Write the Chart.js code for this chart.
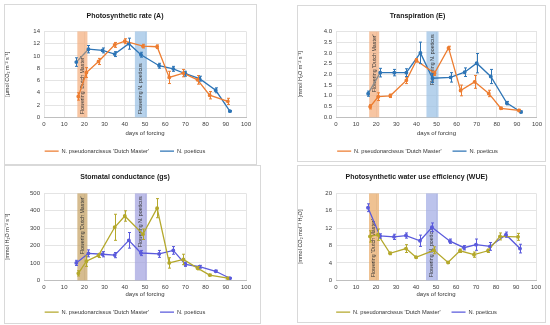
<!DOCTYPE html>
<html>
<head>
<meta charset="utf-8">
<script src="https://cdn.jsdelivr.net/npm/chart.js@4.4.1/dist/chart.umd.min.js"></script>
<style>
body { margin: 0; background: #fff; width: 550px; height: 325px; overflow: hidden; position: relative; }
.frame { position: absolute; border: 1px solid #d9d9d9; box-sizing: border-box; }
.box { position: absolute; }
</style>
</head>
<body>
<div class="frame" style="left:4px;top:4px;width:253px;height:161px"></div>
<div class="frame" style="left:297px;top:5px;width:249px;height:157px"></div>
<div class="frame" style="left:4px;top:165px;width:257px;height:159px"></div>
<div class="frame" style="left:297px;top:165px;width:249px;height:158px"></div>
<div class="box" style="left:4px;top:4px;width:252px;height:160px"><canvas id="cA"></canvas></div>
<div class="box" style="left:297px;top:5px;width:248px;height:159px"><canvas id="cE"></canvas></div>
<div class="box" style="left:4px;top:165px;width:256px;height:160px"><canvas id="cG"></canvas></div>
<div class="box" style="left:297px;top:165px;width:248px;height:160px"><canvas id="cW"></canvas></div>
<script>
const FONT = "'Liberation Sans', sans-serif";

// days of forcing
const daysDM = [17, 21, 27, 35, 40, 49, 56, 62, 69, 76, 82, 91];
const daysNP = [16, 22, 29, 35, 42, 48, 57, 64, 70, 77, 85, 92];

// flowering periods
const flowerDM = [16.5, 21.5];
const flowerNP = [45, 51];

// Photosynthetic rate (A)
const photoDM = [3.4, 7.3, 9.1, 11.8, 12.4, 11.6, 11.5, 6.5, 7.2, 6.1, 3.6, 2.6];
const photoDMErr = [0.6, 0.8, 0.5, 0.4, 0.4, 0.3, 0.3, 1.0, 0.6, 0.7, 0.6, 0.5];
const photoNP = [9.0, 11.1, 10.9, 10.3, 12.0, 10.2, 8.4, 7.9, 7.1, 6.3, 4.4, 1.0];
const photoNPErr = [0.7, 0.6, 0.4, 0.4, 0.9, 0.4, 0.4, 0.4, 0.4, 0.4, 0.4, 0.1];

// Transpiration (E)
const transDM = [0.49, 0.96, 1.0, 1.72, 2.65, 2.05, 3.23, 1.25, 1.65, 1.11, 0.42, 0.32];
const transDMErr = [0.1, 0.18, 0.08, 0.15, 0.08, 0.1, 0.08, 0.25, 0.3, 0.15, 0.05, 0.05];
const transNP = [1.1, 2.08, 2.08, 2.08, 3.0, 1.82, 1.86, 2.1, 2.52, 1.9, 0.66, 0.25];
const transNPErr = [0.12, 0.2, 0.15, 0.18, 0.5, 0.2, 0.22, 0.2, 0.45, 0.33, 0.08, 0.04];

// Stomatal conductance (gs)
const condDM = [40, 110, 143, 305, 370, 265, 415, 100, 120, 70, 30, 12];
const condDMErr = [15, 30, 12, 75, 30, 30, 55, 30, 30, 10, 5, 4];
const condNP = [100, 155, 150, 145, 230, 157, 152, 172, 92, 78, 52, 12];
const condNPErr = [15, 20, 15, 15, 45, 15, 20, 22, 12, 8, 6, 3];

// Photosynthetic water use efficiency (WUE)
const wueDM = [10.1, 10.5, 6.2, 7.3, 5.3, 6.9, 4.1, 6.8, 5.9, 6.8, 10.1, 10.0];
const wueDMErr = [1.3, 1.3, 0.3, 0.9, 0.2, 0.8, 0.2, 0.4, 0.6, 0.4, 0.8, 0.8];
const wueNP = [16.7, 10.2, 10.0, 10.3, 9.1, 12.2, 9.0, 7.5, 8.2, 7.8, 10.5, 7.3];
const wueNPErr = [0.9, 0.5, 0.6, 0.6, 1.3, 1.0, 0.5, 0.5, 1.3, 0.9, 0.6, 1.0];

const nameDM = "N. pseudonarcissus 'Dutch Master'";
const nameNP = 'N. poeticus';

function pts(xs, ys) {
  return xs.map((x, i) => ({ x: x, y: ys[i] }));
}

// shaded flowering bands with rotated labels
const bandPlugin = {
  id: 'bands',
  beforeDatasetsDraw(chart, args, opts) {
    const ctx = chart.ctx, x = chart.scales.x, a = chart.chartArea;
    (opts.list || []).forEach(b => {
      const x0 = x.getPixelForValue(b.range[0]);
      const x1 = x.getPixelForValue(b.range[1]);
      ctx.save();
      ctx.fillStyle = b.color;
      ctx.fillRect(x0, a.top, x1 - x0, a.bottom - a.top);
      ctx.translate((x0 + x1) / 2, b.pos === 'top' ? a.top + 3 : a.bottom - 3);
      ctx.rotate(-Math.PI / 2);
      ctx.fillStyle = '#333';
      ctx.font = '5.3px ' + FONT;
      ctx.textBaseline = 'middle';
      ctx.textAlign = b.pos === 'top' ? 'right' : 'left';
      ctx.fillText(b.text, 0, 0);
      ctx.restore();
    });
  }
};

// vertical error bars from each dataset's err array
const errPlugin = {
  id: 'errbars',
  afterDatasetsDraw(chart) {
    const ctx = chart.ctx, x = chart.scales.x, y = chart.scales.y;
    chart.data.datasets.forEach(ds => {
      if (!ds.err) return;
      ctx.save();
      ctx.strokeStyle = ds.borderColor;
      ctx.lineWidth = 1;
      ds.data.forEach((p, i) => {
        const px = Math.round(x.getPixelForValue(p.x)) + 0.5;
        const yt = y.getPixelForValue(p.y + ds.err[i]);
        const yb = y.getPixelForValue(p.y - ds.err[i]);
        ctx.beginPath();
        ctx.moveTo(px, yt); ctx.lineTo(px, yb);
        ctx.moveTo(px - 1.5, yt); ctx.lineTo(px + 1.5, yt);
        ctx.moveTo(px - 1.5, yb); ctx.lineTo(px + 1.5, yb);
        ctx.stroke();
      });
      ctx.restore();
    });
  }
};

function makePanel(id, p) {
  const line = (label, xs, ys, err, color, firstColor) => ({
    label: label,
    data: pts(xs, ys),
    err: err,
    borderColor: color,
    backgroundColor: color,
    borderWidth: 1.3,
    pointRadius: 1.3,
    pointHoverRadius: 1.3,
    showLine: true,
    segment: firstColor ? { borderColor: c => c.p0DataIndex === 0 ? firstColor : undefined } : undefined
  });
  return new Chart(document.getElementById(id), {
    type: 'scatter',
    data: {
      datasets: [
        line(nameDM, daysDM, p.dm, p.dmErr, p.colDM),
        line(nameNP, daysNP, p.np, p.npErr, p.colNP, p.firstCol)
      ]
    },
    options: {
      responsive: true,
      maintainAspectRatio: false,
      animation: false,
      layout: { padding: { left: 0, right: p.padRight, top: 0, bottom: 0 } },
      plugins: {
        title: {
          display: true,
          text: p.title,
          color: '#1a1a1a',
          font: { family: FONT, size: 7, weight: 'bold' },
          padding: { top: p.titleTop, bottom: p.titleBottom }
        },
        legend: {
          position: 'bottom',
          labels: {
            usePointStyle: true,
            pointStyle: 'line',
            pointStyleWidth: 14,
            color: '#333',
            font: { family: FONT, size: 5.7 },
            padding: 11,
            generateLabels(chart) {
              return chart.data.datasets.map((ds, i) => ({
                text: ds.label, strokeStyle: ds.borderColor, fillStyle: ds.borderColor,
                lineWidth: 1.3, pointStyle: 'line', datasetIndex: i, fontColor: '#333'
              }));
            }
          }
        },
        tooltip: { enabled: false },
        bands: {
          list: [
            { range: flowerDM, color: p.bandDM, text: "Flowering 'Dutch Master'", pos: p.textPos },
            { range: flowerNP, color: p.bandNP, text: 'Flowering N. poeticus', pos: p.textPos }
          ]
        }
      },
      scales: {
        x: {
          type: 'linear', min: 0, max: 100,
          ticks: { stepSize: 10, color: '#404040', font: { family: FONT, size: 6 }, padding: 3, maxRotation: 0 },
          grid: { color: '#e4e4e4', tickLength: 0 },
          border: { color: '#bfbfbf' },
          title: { display: true, text: 'days of forcing', color: '#333', font: { family: FONT, size: 6 }, padding: { top: 2, bottom: 0 } },
          afterFit(s) { s.height = p.xHeight; }
        },
        y: {
          min: 0, max: p.ymax,
          ticks: {
            stepSize: p.step, color: '#404040', font: { family: FONT, size: 6 }, padding: 4,
            callback: v => p.decimals ? v.toFixed(p.decimals) : v
          },
          grid: { color: '#e4e4e4', tickLength: 0 },
          border: { display: false },
          title: { display: true, text: p.ytitle, color: '#333', font: { family: FONT, size: 5.5 }, padding: { top: 0, bottom: 7 } },
          afterFit(s) { s.width = p.yWidth; }
        }
      }
    },
    plugins: [bandPlugin, errPlugin]
  });
}

makePanel('cA', {
  title: 'Photosynthetic rate (A)', ytitle: '[µmol CO₂ m⁻² s⁻¹]',
  dm: photoDM, dmErr: photoDMErr, np: photoNP, npErr: photoNPErr,
  colDM: '#ed7d31', colNP: '#2e75b6', firstCol: '#8c8c8c',
  bandDM: 'rgba(244,177,131,0.75)', bandNP: 'rgba(157,195,230,0.75)', textPos: 'bottom',
  ymax: 14, step: 2, decimals: 0, yWidth: 40, padRight: 10, xHeight: 20, titleTop: 8, titleBottom: 11
});
makePanel('cE', {
  title: 'Transpiration (E)', ytitle: '[mmol H₂O m⁻² s⁻¹]',
  dm: transDM, dmErr: transDMErr, np: transNP, npErr: transNPErr,
  colDM: '#ed7d31', colNP: '#2e75b6', firstCol: '#8c8c8c',
  bandDM: 'rgba(244,177,131,0.75)', bandNP: 'rgba(157,195,230,0.75)', textPos: 'top',
  ymax: 4, step: 0.5, decimals: 1, yWidth: 39, padRight: 7, xHeight: 20, titleTop: 7, titleBottom: 11
});
makePanel('cG', {
  title: 'Stomatal conductance (gs)', ytitle: '[mmol H₂O m⁻² s⁻¹]',
  dm: condDM, dmErr: condDMErr, np: condNP, npErr: condNPErr,
  colDM: '#b4a82c', colNP: '#5a5adc',
  bandDM: 'rgba(196,160,96,0.7)', bandNP: 'rgba(160,160,222,0.7)', textPos: 'top',
  ymax: 500, step: 50, decimals: 0, yWidth: 40, padRight: 14, xHeight: 18, titleTop: 8, titleBottom: 12
});
makePanel('cW', {
  title: 'Photosynthetic water use efficiency (WUE)', ytitle: '[mmol CO₂ mol⁻¹ H₂O]',
  dm: wueDM, dmErr: wueDMErr, np: wueNP, npErr: wueNPErr,
  colDM: '#b4a82c', colNP: '#5a5adc',
  bandDM: 'rgba(232,168,100,0.7)', bandNP: 'rgba(160,170,228,0.7)', textPos: 'bottom',
  ymax: 20, step: 2, decimals: 0, yWidth: 39, padRight: 9, xHeight: 18, titleTop: 8, titleBottom: 12
});
</script>
</body>
</html>
